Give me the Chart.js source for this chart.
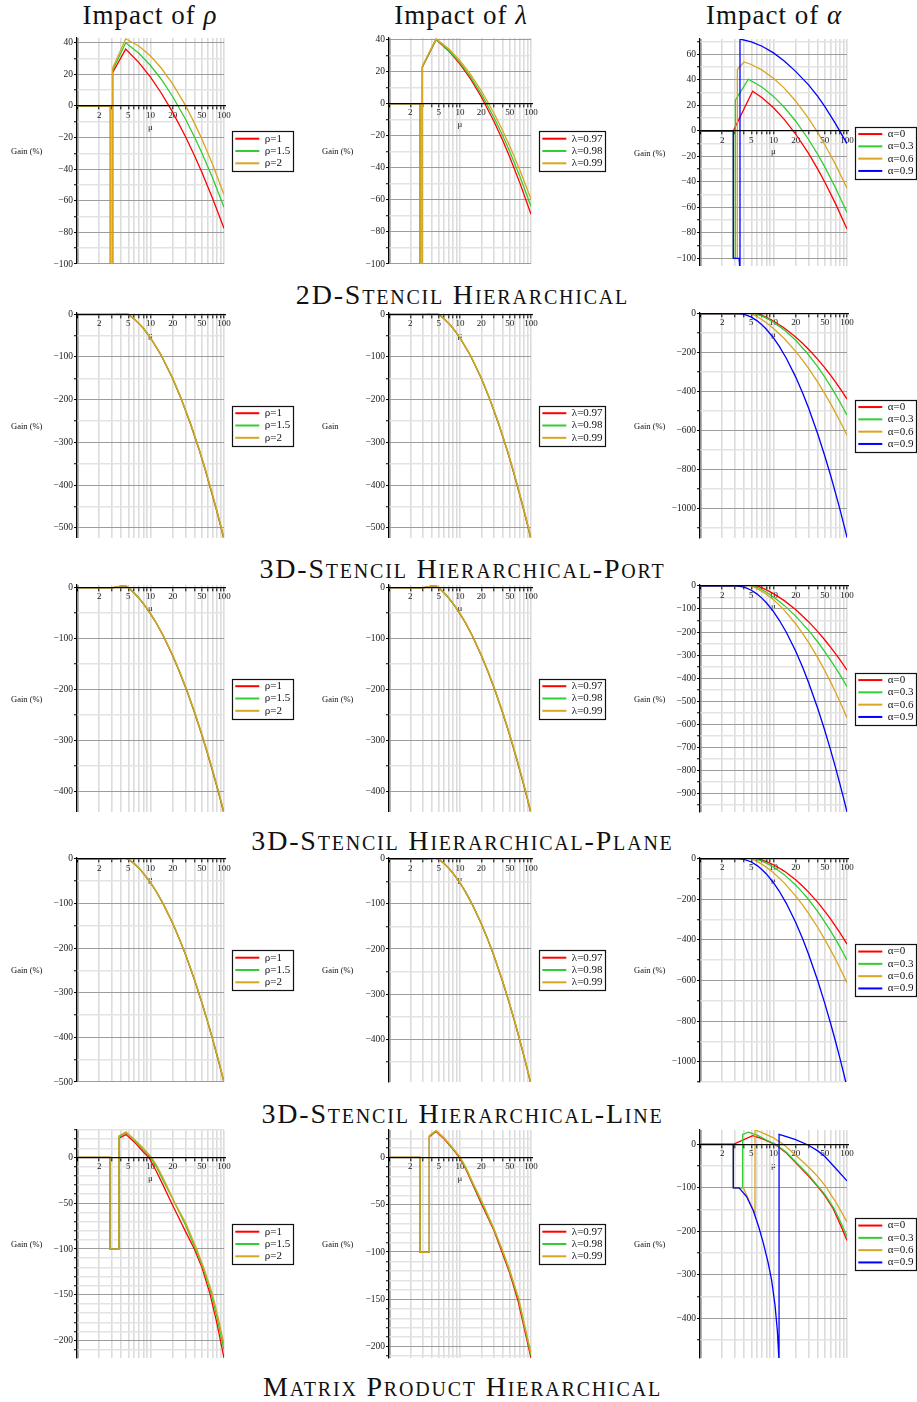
<!DOCTYPE html>
<html>
<head>
<meta charset="utf-8">
<title>Gain vs mu</title>
<script src="https://cdn.jsdelivr.net/npm/chart.js@4.4.1/dist/chart.umd.min.js"></script>
<style>
  html, body { margin: 0; padding: 0; background: #fff; overflow: hidden; }
  body { position: relative; width: 917px; height: 1402px; font-family: "Liberation Serif", "Times New Roman", serif; color: #111; }
  canvas { position: absolute; }
  .colTitle { position: absolute; top: 2px; width: 260px; text-align: center; font-size: 27px; line-height: 27px; letter-spacing: 1px; white-space: nowrap; }
  .rowTitle { position: absolute; left: 4px; width: 917px; text-align: center; font-size: 28px; line-height: 28px; font-variant: small-caps; letter-spacing: 1.8px; white-space: nowrap; }
  .gain { position: absolute; font-size: 8.5px; line-height: 10px; white-space: nowrap; }
</style>
</head>
<body>
<script>
// axis ticks, legends, titles
const MU_GRID = [1, 2, 3, 4, 5, 6, 7, 8, 9, 10, 20, 30, 40, 50, 60, 70, 80, 90, 100]
const MU_LABELS = [2, 5, 10, 20, 50, 100]
const RHO_LABELS = ['ρ=1', 'ρ=1.5', 'ρ=2']
const LAMBDA_LABELS = ['λ=0.97', 'λ=0.98', 'λ=0.99']
const ALPHA_LABELS = ['α=0', 'α=0.3', 'α=0.6', 'α=0.9']
const PARAMS = ['ρ', 'λ', 'α']
const ROW_TITLES = ['2D-Stencil Hierarchical', '3D-Stencil Hierarchical-Port', '3D-Stencil Hierarchical-Plane', '3D-Stencil Hierarchical-Line', 'Matrix Product Hierarchical']
const Y_TITLES = [
    ['Gain (%)', 'Gain (%)', 'Gain (%)'],
    ['Gain (%)', 'Gain', 'Gain (%)'],
    ['Gain (%)', 'Gain (%)', 'Gain (%)'],
    ['Gain (%)', 'Gain (%)', 'Gain (%)'],
    ['Gain (%)', 'Gain (%)', 'Gain (%)']
]
// [min, max, labelled step, grid step]
const Y_AXES = [
    [[-100, 43, 20, 10], [-100, 41, 20, 10], [-106, 72, 20, 10]],
    [[-524, 3, 100, 50], [-524, 3, 100, 50], [-1153, 3, 200, 100]],
    [[-441, 5, 100, 50], [-441, 5, 100, 50], [-980, 4, 100, 50]],
    [[-500, 2, 100, 50], [-495, 2, 100, 50], [-1100, 3, 200, 100]],
    [[-219, 30, 50, 10], [-212, 29, 50, 10], [-491, 33, 100, 50]]
]

// series: [mu, gain %]
// 2D-Stencil Hierarchical
const r1Rho1 = [[1, 0], [2.85, 0], [2.85, -100], [3.05, -100], [3.05, 21], [4.6, 36], [7, 27.3], [10, 18.2], [14, 8.2], [20, -3.9], [30, -19.5], [40, -31.8], [50, -42], [70, -58.5], [100, -77.4]]
const r1Rho15 = [[1, 0], [2.85, 0], [2.85, -100], [3.05, -100], [3.05, 22.5], [4.6, 40], [7, 33.2], [10, 25.6], [14, 16.9], [20, 6], [30, -8.4], [40, -20], [50, -29.7], [70, -45.6], [100, -64.1]]
const r1Rho2 = [[1, 0], [2.85, 0], [2.85, -100], [3.05, -100], [3.05, 24], [4.6, 42.5], [7, 37.8], [10, 31.6], [14, 24], [20, 14], [30, 0.2], [40, -11.2], [50, -20.9], [70, -37], [100, -56]]
const r1Lam97 = [[1, 0], [2.75, 0], [2.75, -100], [2.95, -100], [2.95, 23], [4.6, 40], [7, 32.8], [10, 24.7], [14, 15.6], [20, 4.2], [30, -10.9], [40, -23], [50, -33.1], [70, -49.7], [100, -69]]
const r1Lam98 = [[1, 0], [2.75, 0], [2.75, -100], [2.95, -100], [2.95, 23], [4.6, 40], [7, 33.2], [10, 25.6], [14, 16.9], [20, 6], [30, -8.4], [40, -20], [50, -29.7], [70, -45.6], [100, -64.1]]
const r1Lam99 = [[1, 0], [2.75, 0], [2.75, -100], [2.95, -100], [2.95, 23.5], [4.6, 40.5], [7, 34.1], [10, 26.9], [14, 18.5], [20, 8.1], [30, -5.8], [40, -16.9], [50, -26.3], [70, -41.6], [100, -59.5]]
const r1A0 = [[1, 0], [2.84, 0], [5.2, 31], [7, 25.9], [10, 18.1], [14, 9], [20, -2.5], [30, -17.7], [40, -30], [50, -40.3], [70, -57.3], [100, -77]]
const r1A3 = [[1, 0], [2.84, 0], [2.84, -100], [3.03, -100], [3.03, 24], [4.55, 40.5], [7, 34.2], [10, 27], [14, 18.5], [20, 7.7], [30, -6.8], [40, -18.5], [50, -28.5], [70, -44.8], [100, -64]]
const r1A6 = [[1, 0], [2.84, 0], [2.84, -100], [3.22, -100], [3.22, 48], [3.97, 54], [5, 52], [7, 47.6], [10, 41.2], [14, 33.5], [20, 23.4], [30, 9.8], [40, -1.4], [50, -10.9], [70, -26.5], [100, -45]]
const r1A9 = [[1, 0], [2.84, 0], [2.84, -100], [3.4, -100], [3.5, -110], [3.5, 72], [5, 69.8], [7, 66.3], [10, 61.1], [14, 54.8], [20, 46.6], [30, 36], [40, 27], [50, 19], [70, 5.5], [100, -10]]

// 3D-Stencil Hierarchical-Port
const r2Rho1 = [[1, 0], [3.3, 0], [4.3, 2], [5, -0.5], [6, -11], [7, -22], [8, -33], [10, -55.5], [14, -96.5], [20, -150.5], [26, -197], [35, -257], [46, -318], [56, -366.5], [68, -418], [80, -462], [90, -496], [100, -528]]
const r2Rho15 = [[1, 0], [3.3, 0], [4.3, 2.3], [5, -0.2], [6, -10.8], [7, -21.8], [8, -32.8], [10, -55], [14, -96], [20, -150], [26, -196.5], [35, -256], [46, -317], [56, -365], [68, -416.5], [80, -460.5], [90, -494.5], [100, -526]]
const r2Rho2 = [[1, 0], [3.3, 0], [4.3, 2.5], [5, 0], [6, -10.5], [7, -21.5], [8, -32.6], [10, -54.6], [14, -95.5], [20, -149.3], [26, -195.7], [35, -255], [46, -316], [56, -364], [68, -415], [80, -459], [90, -493], [100, -524]]
const r2Lam97 = [[1, 0], [3.3, 0], [4.3, 2], [5, -0.5], [6, -11], [7, -22], [8, -33], [10, -55.5], [14, -96.5], [20, -150.5], [26, -197], [35, -257], [46, -318], [56, -366.5], [68, -418], [80, -462], [90, -496], [100, -528]]
const r2Lam98 = [[1, 0], [3.3, 0], [4.3, 2.3], [5, -0.2], [6, -10.8], [7, -21.8], [8, -32.8], [10, -55], [14, -96], [20, -150], [26, -196.5], [35, -256], [46, -317], [56, -365], [68, -416.5], [80, -460.5], [90, -494.5], [100, -526]]
const r2Lam99 = [[1, 0], [3.3, 0], [4.3, 2.5], [5, 0], [6, -10.5], [7, -21.5], [8, -32.6], [10, -54.6], [14, -95.5], [20, -149.3], [26, -195.7], [35, -255], [46, -316], [56, -364], [68, -415], [80, -459], [90, -493], [100, -524]]
const r2A0 = [[1, 0], [4, 0], [5, 4], [6, 0], [7, -9.7], [8, -19.4], [10, -38.5], [14, -73.8], [20, -120], [25, -153.4], [33, -200], [40, -235], [50, -279], [60, -318], [70, -352.6], [85, -398], [100, -439]]
const r2A3 = [[1, 0], [3.8, 0], [4.8, 3], [5.6, 0], [7, -13.3], [8, -23.4], [10, -44], [14, -83.6], [20, -136.9], [28.3, -200], [40, -273.7], [50, -327], [65, -396], [80, -454.5], [100, -522]]
const r2A6 = [[1, 0], [3.5, 0], [4.4, 2], [5, 0], [6, -16.1], [7, -32], [8, -47.4], [10, -76.5], [14, -128.4], [20, -194], [25, -240.6], [30, -281.7], [40, -352.4], [50, -412.3], [60, -464], [70, -510], [80, -552], [90, -590], [100, -625]]
const r2A9 = [[1, 0], [3.5, 0], [4, -4], [5, -18.4], [6, -37.3], [7, -58.4], [8, -80.5], [10, -125], [12, -168.4], [15, -230.6], [20, -325], [25, -409.3], [30, -485.2], [40, -618.5], [50, -732.9], [60, -833.3], [70, -923.5], [80, -1005], [90, -1080], [100, -1150]]

// 3D-Stencil Hierarchical-Plane
const r3Rho1 = [[1, 0], [3.1, 0], [4.5, 4], [5, -0.5], [6, -11], [7, -21.4], [8, -31.8], [10, -51.6], [12, -70], [15, -95.8], [20, -133.8], [25, -166.8], [31, -201.6], [40, -247], [50, -290], [60, -327.5], [70, -361], [80, -391], [90, -418.8], [100, -444.5]]
const r3Rho15 = [[1, 0], [3.1, 0], [4.5, 4.5], [5, -0.2], [6, -10.7], [7, -21.1], [8, -31.5], [10, -51.2], [12, -69.6], [15, -95.3], [20, -133.2], [25, -166.1], [31, -200.8], [40, -246], [50, -289], [60, -326.3], [70, -359.6], [80, -389.6], [90, -417.2], [100, -442.8]]
const r3Rho2 = [[1, 0], [3.1, 0], [4.5, 5], [5, 0], [6, -10.4], [7, -20.8], [8, -31.2], [10, -50.9], [12, -69.3], [15, -94.9], [20, -132.6], [25, -165.4], [31, -200], [40, -245], [50, -287.8], [60, -325], [70, -358.2], [80, -388.2], [90, -415.6], [100, -441]]
const r3Lam97 = [[1, 0], [3.1, 0], [4.5, 4], [5, -0.5], [6, -11], [7, -21.4], [8, -31.8], [10, -51.6], [12, -70], [15, -95.8], [20, -133.8], [25, -166.8], [31, -201.6], [40, -247], [50, -290], [60, -327.5], [70, -361], [80, -391], [90, -418.8], [100, -444.5]]
const r3Lam98 = [[1, 0], [3.1, 0], [4.5, 4.5], [5, -0.2], [6, -10.7], [7, -21.1], [8, -31.5], [10, -51.2], [12, -69.6], [15, -95.3], [20, -133.2], [25, -166.1], [31, -200.8], [40, -246], [50, -289], [60, -326.3], [70, -359.6], [80, -389.6], [90, -417.2], [100, -442.8]]
const r3Lam99 = [[1, 0], [3.1, 0], [4.5, 5], [5, 0], [6, -10.4], [7, -20.8], [8, -31.2], [10, -50.9], [12, -69.3], [15, -94.9], [20, -132.6], [25, -165.4], [31, -200], [40, -245], [50, -287.8], [60, -325], [70, -358.2], [80, -388.2], [90, -415.6], [100, -441]]
const r3A0 = [[1, 0], [4, 0], [5, 5], [6, 0], [7, -8.7], [8, -17.2], [10, -33.6], [14, -63.7], [20, -102.4], [30, -155], [40, -197.9], [50, -234.3], [60, -266], [70, -294.4], [80, -319.9], [90, -343.2], [100, -365]]
const r3A3 = [[1, 0], [3.8, 0], [4.7, 4], [5.5, 0], [6, -5.6], [7, -16.7], [8, -27.4], [10, -47.9], [14, -84.4], [20, -130.8], [30, -192.9], [40, -243.1], [50, -285.6], [60, -322.5], [70, -355.3], [80, -384.9], [90, -411.9], [100, -437]]
const r3A6 = [[1, 0], [3.5, 0], [4.4, 3], [5, 0], [6, -11.6], [7, -23.8], [8, -36.1], [10, -60.2], [12, -83.2], [14, -105], [20, -163.8], [25, -206.4], [30, -244.5], [40, -310.9], [50, -367.5], [60, -417], [70, -461.3], [80, -501.4], [90, -537.9], [100, -572]]
const r3A9 = [[1, 0], [3.16, 0], [4, -5.3], [5, -18.6], [6, -35.5], [7, -53.9], [8, -73.1], [10, -111.6], [12, -148.9], [15, -201.9], [20, -282.4], [25, -354.1], [30, -418.4], [40, -531.3], [50, -628.1], [60, -712.9], [70, -789], [80, -858.1], [90, -921.2], [100, -980]]

// 3D-Stencil Hierarchical-Line
const r4Rho1 = [[1, 0], [3.3, 0], [4.4, 1.5], [5, -0.5], [6, -10.7], [7, -21.4], [8, -32.3], [10, -53.5], [12, -73.6], [15, -102], [20, -144.4], [25, -181.7], [30, -215], [40, -273], [50, -322.6], [60, -365.8], [70, -404.5], [80, -439.5], [90, -471.4], [100, -501]]
const r4Rho15 = [[1, 0], [3.3, 0], [4.4, 1.8], [5, -0.2], [6, -10.4], [7, -21.1], [8, -32], [10, -53.1], [12, -73.2], [15, -101.6], [20, -143.9], [25, -181.1], [30, -214.4], [40, -272.3], [50, -321.8], [60, -364.9], [70, -403.6], [80, -438.5], [90, -470.4], [100, -500]]
const r4Rho2 = [[1, 0], [3.3, 0], [4.4, 2], [5, 0], [6, -10.2], [7, -20.9], [8, -31.8], [10, -52.8], [12, -72.9], [15, -101.2], [20, -143.4], [25, -180.6], [30, -213.8], [40, -271.6], [50, -321], [60, -364.1], [70, -402.7], [80, -437.6], [90, -469.4], [100, -499]]
const r4Lam97 = [[1, 0], [3.3, 0], [4.4, 1.5], [5, -0.5], [6, -10.7], [7, -21.4], [8, -32.3], [10, -53.5], [12, -73.6], [15, -102], [20, -144.4], [25, -181.7], [30, -215], [40, -273], [50, -322.6], [60, -365.8], [70, -404.5], [80, -439.5], [90, -471.4], [100, -501]]
const r4Lam98 = [[1, 0], [3.3, 0], [4.4, 1.8], [5, -0.2], [6, -10.4], [7, -21.1], [8, -32], [10, -53.1], [12, -73.2], [15, -101.6], [20, -143.9], [25, -181.1], [30, -214.4], [40, -272.3], [50, -321.8], [60, -364.9], [70, -403.6], [80, -438.5], [90, -470.4], [100, -500]]
const r4Lam99 = [[1, 0], [3.3, 0], [4.4, 2], [5, 0], [6, -10.2], [7, -20.9], [8, -31.8], [10, -52.8], [12, -72.9], [15, -101.2], [20, -143.4], [25, -180.6], [30, -213.8], [40, -271.6], [50, -321], [60, -364.1], [70, -402.7], [80, -437.6], [90, -469.4], [100, -499]]
const r4A0 = [[1, 0], [4, 0], [5, 4], [6, 0], [7, -7], [8, -14.5], [10, -30.3], [14, -61.5], [20, -104.2], [25, -136], [30, -164.9], [40, -215.8], [50, -259.7], [60, -298.4], [70, -333.3], [80, -364.9], [90, -393.9], [100, -421]]
const r4A3 = [[1, 0], [3.8, 0], [4.8, 3], [5.6, 0], [7, -12.3], [8, -21.9], [10, -41.3], [14, -78.9], [20, -129.8], [25, -167.4], [30, -201.4], [40, -261], [50, -312.4], [60, -357.4], [70, -398], [80, -434.9], [90, -468.5], [100, -500]]
const r4A6 = [[1, 0], [3.5, 0], [4.4, 2], [5, 0], [6, -14.2], [7, -28.6], [8, -42.7], [10, -70], [14, -119.5], [20, -183.1], [25, -228.7], [30, -269.2], [40, -339.3], [50, -398.8], [60, -450.6], [70, -496.8], [80, -538.5], [90, -576.6], [100, -612]]
const r4A9 = [[1, 0], [3.3, 0], [4, -3.5], [5, -16.6], [6, -34.4], [7, -54.5], [8, -75.6], [10, -118.7], [12, -160.9], [15, -221.4], [20, -313.7], [25, -396.4], [30, -470.8], [40, -601.7], [50, -714.3], [60, -813.1], [70, -902], [80, -982.6], [90, -1056.4], [100, -1125]]

// Matrix Product Hierarchical
const r5Rho1 = [[1, 0], [2.8, 0], [2.8, -100], [3.73, -100], [3.73, 21], [4.64, 25], [6, 17], [8, 6], [9.5, 0], [12, -15], [15, -31], [19.4, -50], [25, -68], [30, -81], [39.5, -100], [50, -120], [64.5, -149], [80, -181], [100, -219]]
const r5Rho15 = [[1, 0], [2.8, 0], [2.8, -100], [3.73, -100], [3.73, 22.5], [4.64, 27], [6, 19], [8, 8], [10, 0], [12, -10], [15, -26], [20, -45], [25, -61], [30, -74], [41, -100], [50, -117], [67, -148], [80, -174], [100, -210]]
const r5Rho2 = [[1, 0], [2.8, 0], [2.8, -100], [3.73, -100], [3.73, 23.5], [4.64, 28], [6, 20], [8, 10], [10.3, 0], [12, -8], [15, -23], [21.5, -50], [30, -71], [42.5, -100], [55, -124], [70, -150], [85, -178], [100, -204]]
const r5Lam97 = [[1, 0], [2.74, 0], [2.74, -100], [3.7, -100], [3.7, 22], [4.6, 27.5], [6, 19.5], [8, 8.5], [9.8, 0], [12, -12], [15, -28], [20, -49], [30, -77], [39, -100], [50, -122], [66, -152], [80, -180], [100, -212]]
const r5Lam98 = [[1, 0], [2.74, 0], [2.74, -100], [3.7, -100], [3.7, 22.5], [4.6, 28], [6, 20], [8, 9], [10, 0], [12, -11], [15, -27], [20.3, -48], [30, -76], [40, -100], [50, -120], [66.8, -150], [80, -177], [100, -209]]
const r5Lam99 = [[1, 0], [2.74, 0], [2.74, -100], [3.7, -100], [3.7, 23], [4.6, 28.5], [6, 20.5], [8, 9.5], [10.1, 0], [12, -10], [15, -26], [20.5, -47], [30, -75], [40.5, -100], [50, -119], [67, -149], [80, -175], [100, -207]]
const r5A0 = [[1, 0], [2.84, 0], [5.2, 20], [7, 13], [10.5, 0], [15, -20], [20, -42], [30, -73], [40, -97], [50, -118], [65, -148], [85, -192], [100, -221]]
const r5A3 = [[1, 0], [2.84, 0], [2.84, -100], [3.8, -100], [3.8, 23], [4.55, 28], [6, 21], [8, 10], [10.7, 0], [15, -18], [20, -40], [30, -70], [42, -100], [50, -115], [67, -148], [85, -184], [100, -212]]
const r5A6 = [[1, 0], [2.84, 0], [2.84, -100], [3.9, -100], [5.6, -160], [5.6, 33], [7, 27], [10, 15], [13.6, 0], [20, -25], [30, -52], [40, -74], [50, -94], [70, -132], [100, -178]]
const r5A9 = [[1, 0], [2.84, 0], [2.84, -100], [3.4, -100], [4.3, -120], [5.3, -152], [6.3, -190], [7.3, -228], [8.4, -270], [9.4, -311], [10.5, -370], [11.3, -430], [11.9, -500], [11.9, 23], [15, 18], [20, 11], [30, -2], [40, -15], [50, -28], [70, -55], [100, -84]]

const SERIES = [
    [[r1Rho1, r1Rho15, r1Rho2], [r1Lam97, r1Lam98, r1Lam99], [r1A0, r1A3, r1A6, r1A9]],
    [[r2Rho1, r2Rho15, r2Rho2], [r2Lam97, r2Lam98, r2Lam99], [r2A0, r2A3, r2A6, r2A9]],
    [[r3Rho1, r3Rho15, r3Rho2], [r3Lam97, r3Lam98, r3Lam99], [r3A0, r3A3, r3A6, r3A9]],
    [[r4Rho1, r4Rho15, r4Rho2], [r4Lam97, r4Lam98, r4Lam99], [r4A0, r4A3, r4A6, r4A9]],
    [[r5Rho1, r5Rho15, r5Rho2], [r5Lam97, r5Lam98, r5Lam99], [r5A0, r5A3, r5A6, r5A9]]
]
const LEGENDS = [RHO_LABELS, LAMBDA_LABELS, ALPHA_LABELS]

// layout
const SERIF = '"Liberation Serif", "Times New Roman", serif'
const COLORS = ['#ff0000', '#32cd32', '#daa520', '#0000ff']
const PLOT_X = [[77, 224], [389, 531], [700, 847]]
const PLOT_Y = [[38, 264], [313, 538], [585, 812], [858, 1082], [1130, 1358]]
const GAIN_X = [11, 322, 634]
const TITLE_X = [150, 461, 774]
const ROW_BASE = [304, 578, 850, 1123, 1396]
const YW = 40, PT = 8, PB = 8, GAP = 10, PR = 2
const LEG_FONT = 11, LEG_PAD = 1.3, LEG_LINE = 24

const minus = v => v < 0 ? '\u2212' + (-v) : String(v)
const measure = document.createElement('canvas').getContext('2d')
measure.font = LEG_FONT + 'px ' + SERIF

// frame round the legend entries
const legendBox = {
    id: 'legendBox',
    afterDraw(chart) {
        const boxes = chart.legend && chart.legend.legendHitBoxes
        if (!boxes || !boxes.length) return
        let l = Infinity, t = Infinity, r = -Infinity, b = -Infinity
        boxes.forEach(h => {
            l = Math.min(l, h.left); t = Math.min(t, h.top)
            r = Math.max(r, h.left + h.width); b = Math.max(b, h.top + h.height)
        })
        const ctx = chart.ctx
        ctx.save()
        ctx.strokeStyle = '#111'
        ctx.lineWidth = 1.2
        ctx.strokeRect(Math.round(l - 3) + 0.5, Math.round(t - 2) + 0.5, Math.round(r - l + 6), Math.round(b - t + 4))
        ctx.restore()
    }
}

function addText(cls, html, left, top) {
    const d = document.createElement('div')
    d.className = cls
    d.innerHTML = html
    d.style.left = left + 'px'
    d.style.top = top + 'px'
    document.body.appendChild(d)
}

function makeChart(r, c) {
    const [x0, x1] = PLOT_X[c]
    const [y0, y1] = (r === 0 && c === 2) ? [39, 266] : PLOT_Y[r]
    const [ymin, ymax, major, minor] = Y_AXES[r][c]
    const textW = Math.max(...LEGENDS[c].map(t => measure.measureText(t).width))
    const legW = Math.ceil(LEG_PAD + LEG_LINE + LEG_FONT / 2 + textW + 3)
    const w = YW + (x1 - x0) + GAP + legW + PR
    const h = (y1 - y0) + PT + PB
    const cv = document.createElement('canvas')
    cv.width = w; cv.height = h
    cv.style.left = (x0 - YW) + 'px'; cv.style.top = (y0 - PT) + 'px'
    cv.style.width = w + 'px'; cv.style.height = h + 'px'
    document.body.appendChild(cv)

    addText('gain', Y_TITLES[r][c], GAIN_X[c], (y0 + y1) / 2 - 5)

    const isMajor = v => Math.abs(v / major - Math.round(v / major)) < 1e-6
    new Chart(cv, {
        type: 'line',
        data: {
            datasets: SERIES[r][c].map((s, i) => ({
                label: LEGENDS[c][i],
                data: s.map(p => ({ x: p[0], y: p[1] })),
                borderColor: COLORS[i],
                backgroundColor: COLORS[i],
                borderWidth: 1.3,
                pointRadius: 0,
                tension: 0,
                fill: false,
                order: 10 - i
            }))
        },
        options: {
            responsive: false,
            animation: false,
            devicePixelRatio: 1,
            events: [],
            layout: { padding: { left: 0, top: PT, bottom: PB, right: PR } },
            scales: {
                x: {
                    type: 'logarithmic',
                    min: 1, max: 100,
                    position: { y: 0 },
                    afterBuildTicks: s => { s.ticks = MU_GRID.map(v => ({ value: v })) },
                    grid: {
                        color: ctx => ctx.tick && ctx.tick.value === 1 ? '#b4b4b4' : '#dcdcdc',
                        lineWidth: ctx => ctx.tick && ctx.tick.value === 1 ? 3 : 1.6,
                        tickColor: '#000', tickLength: 3, tickWidth: 1
                    },
                    border: { color: '#000', width: 1.3, z: 1 },
                    ticks: {
                        autoSkip: false, maxRotation: 0, padding: 1, color: '#1a1a1a',
                        font: { family: SERIF, size: 9 },
                        callback: v => MU_LABELS.some(t => Math.abs(t - v) < 1e-6) ? String(Math.round(v)) : ''
                    },
                    title: { display: true, text: 'μ', color: '#1a1a1a', font: { family: SERIF, size: 9 }, padding: { top: 0, bottom: 0 } },
                    afterFit: s => { s.paddingLeft = 0; s.paddingRight = 0 }
                },
                y: {
                    type: 'linear',
                    min: ymin, max: ymax,
                    position: 'left',
                    afterBuildTicks: s => {
                        const t = []
                        for (let k = Math.ceil(ymin / minor); k * minor <= ymax; k++) t.push({ value: k * minor })
                        s.ticks = t
                    },
                    grid: {
                        color: ctx => !ctx.tick ? '#ddd' : ctx.tick.value === 0 ? '#000' : isMajor(ctx.tick.value) ? '#9c9c9c' : '#e3e3e3',
                        lineWidth: ctx => ctx.tick && isMajor(ctx.tick.value) ? 1.1 : 1.5,
                        tickColor: '#000', tickLength: 3, tickWidth: 1
                    },
                    border: { color: '#000', width: 1.2 },
                    ticks: {
                        autoSkip: false, padding: 1, color: '#1a1a1a',
                        font: { family: SERIF, size: 9.5 },
                        callback: v => isMajor(v) ? minus(Math.round(v)) : ''
                    },
                    afterFit: s => { s.width = YW; s.paddingTop = 0; s.paddingBottom = 0 }
                },
                gap: {
                    type: 'linear',
                    position: 'right',
                    grid: { display: false },
                    border: { display: false },
                    ticks: { display: false },
                    afterFit: s => { s.width = GAP; s.paddingTop = 0; s.paddingBottom = 0 }
                }
            },
            plugins: {
                tooltip: { enabled: false },
                legend: {
                    position: 'right',
                    align: 'center',
                    maxWidth: legW,
                    labels: {
                        usePointStyle: true,
                        pointStyle: 'line',
                        pointStyleWidth: LEG_LINE,
                        padding: LEG_PAD,
                        color: '#111',
                        font: { family: SERIF, size: LEG_FONT },
                        sort: (a, b) => a.datasetIndex - b.datasetIndex,
                        generateLabels: ch => Chart.defaults.plugins.legend.labels.generateLabels(ch).map(l => Object.assign(l, { lineWidth: 2 }))
                    }
                }
            }
        },
        plugins: [legendBox]
    })
}

PARAMS.forEach((p, c) => addText('colTitle', 'Impact of <i>' + p + '</i>', TITLE_X[c] - 130, 2))
ROW_TITLES.forEach((t, r) => addText('rowTitle', t, 4, ROW_BASE[r] - 23.5))

for (let r = 0; r < 5; r++) {
    for (let c = 0; c < 3; c++) makeChart(r, c)
}
</script>
</body>
</html>
